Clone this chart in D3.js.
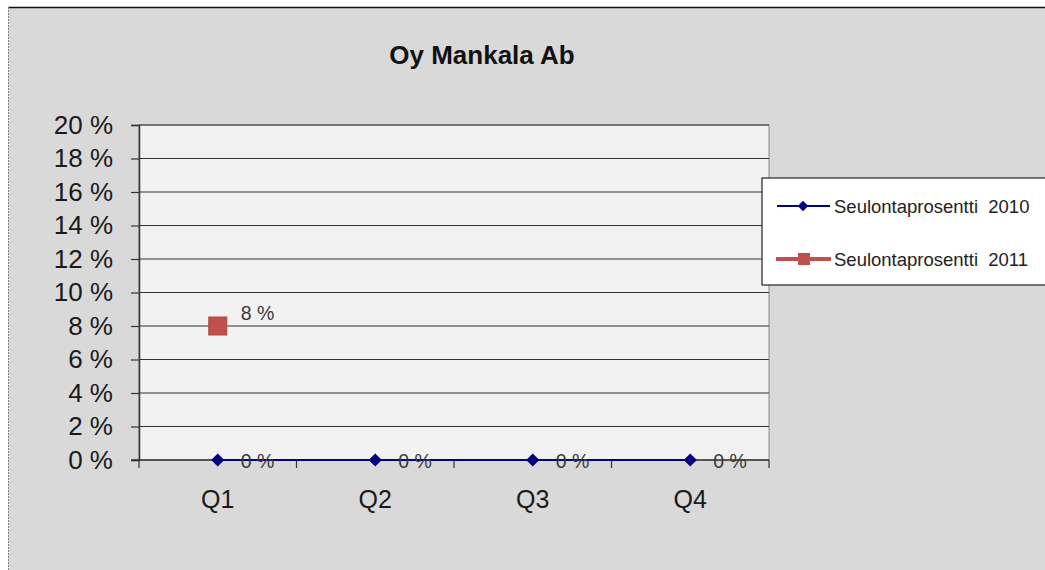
<!DOCTYPE html>
<html><head><meta charset="utf-8">
<script src="https://cdn.jsdelivr.net/npm/d3@7"></script>
<style>html,body{margin:0;padding:0;background:#fff;}svg{display:block;}</style>
</head><body>
<script>
const categories = ["Q1","Q2","Q3","Q4"];
const series2010 = [0,0,0,0];
const series2011 = [8,null,null,null];
const seriesNames = ["Seulontaprosentti  2010","Seulontaprosentti  2011"];
const yTicks = [0,2,4,6,8,10,12,14,16,18,20];
const title = "Oy Mankala Ab";

const W=1045,H=570;
const FONT="Liberation Sans, Arial, sans-serif";
const svg=d3.select("body").append("svg").attr("width",W).attr("height",H);
svg.append("rect").attr("x",8).attr("y",7).attr("width",W-8).attr("height",H-7).attr("fill","#d9d9d9");
svg.append("line").attr("x1",8).attr("x2",W).attr("y1",7.5).attr("y2",7.5).attr("stroke","#111").attr("stroke-width",1.5);
svg.append("line").attr("x1",8.5).attr("x2",8.5).attr("y1",7).attr("y2",H).attr("stroke","#888").attr("stroke-dasharray","2,1");

const L=139,R=769,T=125,B=460;
const x=d3.scaleBand().domain(categories).range([L,R]);
const y=d3.scaleLinear().domain([0,20]).range([B,T]);
svg.append("rect").attr("x",L).attr("y",T).attr("width",R-L).attr("height",B-T).attr("fill","#f2f2f2").attr("stroke","#888");

svg.append("g").selectAll("line").data(yTicks.filter(d=>d>0)).join("line")
 .attr("x1",L).attr("x2",R).attr("y1",d=>y(d)).attr("y2",d=>y(d)).attr("stroke","#333").attr("stroke-width",1.2);

const yAxis=svg.append("g").attr("transform",`translate(${L},0)`)
 .call(d3.axisLeft(y).tickValues(yTicks).tickSize(8).tickPadding(18).tickFormat(d=>d+" %"));
yAxis.select(".domain").attr("stroke","#333").attr("stroke-width",1.5);
yAxis.selectAll(".tick line").attr("stroke","#333").attr("stroke-width",1.2);
yAxis.selectAll("text").attr("font-family",FONT).attr("font-size",26).attr("fill","#1a1a1a");

const xAxis=svg.append("g").attr("transform",`translate(0,${B})`)
 .call(d3.axisBottom(x).tickSize(0).tickPadding(30));
xAxis.select(".domain").remove();
xAxis.selectAll("text").attr("font-family",FONT).attr("font-size",25).attr("fill","#1a1a1a");
svg.append("line").attr("x1",L-8).attr("x2",R).attr("y1",B).attr("y2",B).attr("stroke","#333").attr("stroke-width",1.5);
const bounds=categories.map(c=>x(c)).concat([R]);
svg.append("g").selectAll("line").data(bounds).join("line")
 .attr("x1",d=>d).attr("x2",d=>d).attr("y1",B).attr("y2",B+8).attr("stroke","#333").attr("stroke-width",1.2);

const cx=c=>x(c)+x.bandwidth()/2;
const line=d3.line().defined(d=>d.v!=null).x(d=>cx(d.c)).y(d=>y(d.v));
const d10=categories.map((c,i)=>({c,v:series2010[i]}));
const d11=categories.map((c,i)=>({c,v:series2011[i]}));
svg.append("path").datum(d10).attr("d",line).attr("fill","none").attr("stroke","#000080").attr("stroke-width",2.2);
svg.append("path").datum(d11).attr("d",line).attr("fill","none").attr("stroke","#c0504d").attr("stroke-width",3);

const lab=(data,dy)=>svg.append("g").selectAll("text").data(data.filter(d=>d.v!=null)).join("text")
 .attr("x",d=>cx(d.c)+23).attr("y",d=>y(d.v)+dy).text(d=>d.v+" %")
 .attr("font-family",FONT).attr("font-size",19.5).attr("fill","#3a3a3a");
lab(d10,8); lab(d11,-6);

svg.append("g").selectAll("path").data(d10).join("path")
 .attr("d",d3.symbol(d3.symbolDiamond2,110)()).attr("transform",d=>`translate(${cx(d.c)},${y(d.v)})`).attr("fill","#000080");
svg.append("g").selectAll("rect").data(d11.filter(d=>d.v!=null)).join("rect")
 .attr("x",d=>cx(d.c)-9).attr("y",d=>y(d.v)-9).attr("width",18).attr("height",18).attr("fill","#c0504d").attr("stroke","#b84440");

svg.append("text").attr("x",482).attr("y",64).attr("text-anchor","middle").text(title)
 .attr("font-family",FONT).attr("font-size",26).attr("font-weight","bold").attr("fill","#111");

const lg=svg.append("g");
lg.append("rect").attr("x",762).attr("y",178).attr("width",290).attr("height",107).attr("fill","#fff").attr("stroke","#222").attr("stroke-width",1.2);
const ly=[206,259];
lg.append("line").attr("x1",777).attr("x2",830).attr("y1",ly[0]).attr("y2",ly[0]).attr("stroke","#000080").attr("stroke-width",2);
lg.append("path").attr("d",d3.symbol(d3.symbolDiamond2,70)()).attr("transform",`translate(803,${ly[0]})`).attr("fill","#000080");
lg.append("line").attr("x1",776).attr("x2",831).attr("y1",ly[1]).attr("y2",ly[1]).attr("stroke","#c0504d").attr("stroke-width",4);
lg.append("rect").attr("x",798).attr("y",ly[1]-6).attr("width",12).attr("height",12).attr("fill","#c0504d");
lg.selectAll("text.l").data(seriesNames).join("text").attr("x",834).attr("y",(d,i)=>ly[i]+7).text(d=>d)
 .attr("font-family",FONT).attr("font-size",18.5).attr("fill","#222").style("white-space","pre").attr("xml:space","preserve");
</script>
</body></html>
